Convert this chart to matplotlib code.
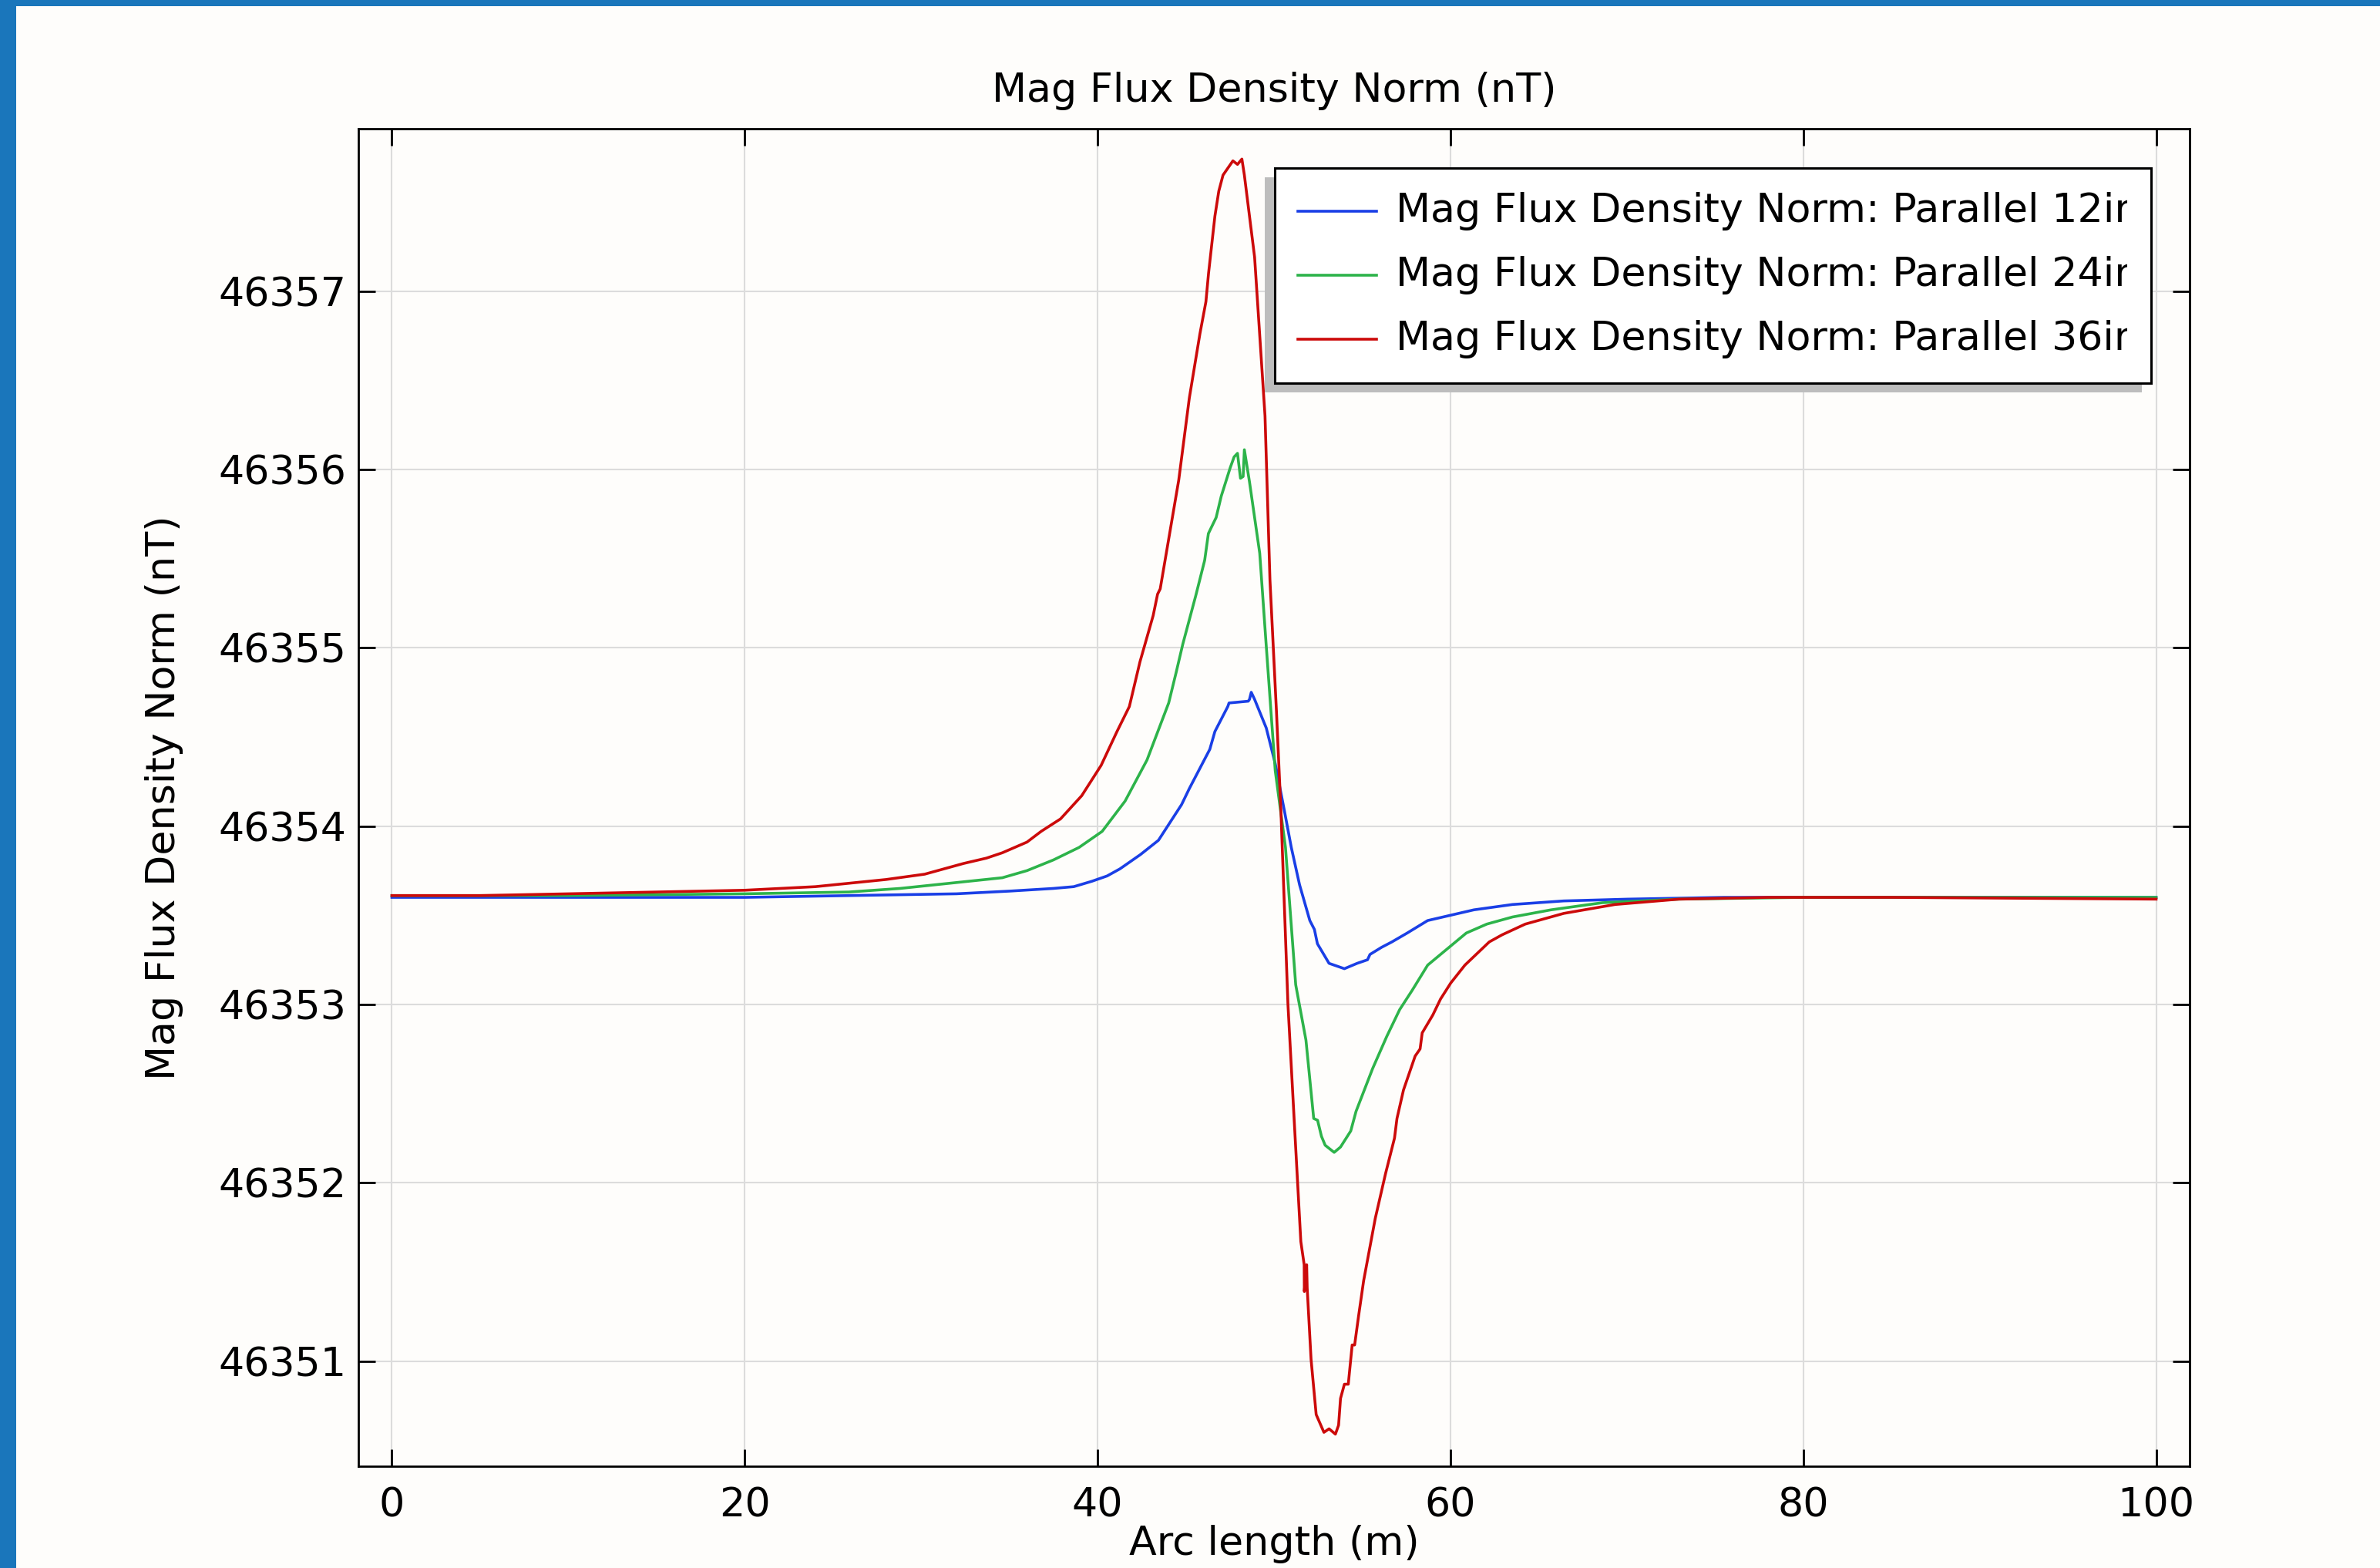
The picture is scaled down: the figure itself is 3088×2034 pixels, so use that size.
import matplotlib
matplotlib.use("Agg")
import matplotlib.pyplot as plt
from matplotlib.patches import Rectangle

plt.rcParams['font.family'] = ['DejaVu Sans']

# ---------------- data ----------------
red_x = [0, 5, 10, 15, 20, 24, 28, 30.2, 32.4, 33.7, 34.6,
         36.0, 36.8, 37.9, 39.1, 40.2, 41.1, 41.8, 42.4, 43.15, 43.4, 43.55,
         44.6, 45.2, 45.8, 46.14, 46.29, 46.65, 46.87, 47.11, 47.67, 47.93,
         48.18, 48.32, 48.61, 48.90, 49.49, 49.77, 50.14, 50.39, 50.79, 51.15,
         51.52, 51.71, 51.72, 51.85, 51.88, 52.10, 52.39, 52.83, 53.12, 53.48,
         53.66, 53.77, 53.99, 54.21, 54.43, 54.57, 54.79, 55.08, 55.74, 56.32,
         56.83, 56.97, 57.34, 58.00, 58.28, 58.40, 59.00, 59.44, 60.02, 60.82,
         62.20, 62.93, 64.24, 66.42, 69.33, 72.96, 78, 85, 100]
red_y = [46353.61, 46353.61, 46353.62, 46353.63, 46353.64, 46353.66, 46353.70, 46353.73, 46353.79, 46353.82, 46353.85,
         46353.91, 46353.97, 46354.04, 46354.17, 46354.34, 46354.53, 46354.67, 46354.92, 46355.18, 46355.30, 46355.33,
         46355.94, 46356.40, 46356.76, 46356.94, 46357.10, 46357.42, 46357.56, 46357.65, 46357.73, 46357.71,
         46357.74, 46357.65, 46357.42, 46357.19, 46356.30, 46355.38, 46354.64, 46354.09, 46353.00, 46352.34,
         46351.67, 46351.54, 46351.39, 46351.54, 46351.41, 46351.01, 46350.70, 46350.60, 46350.62, 46350.59,
         46350.64, 46350.79, 46350.87, 46350.87, 46351.09, 46351.09, 46351.25, 46351.45, 46351.80, 46352.05,
         46352.25, 46352.36, 46352.52, 46352.71, 46352.75, 46352.84, 46352.94, 46353.03, 46353.12, 46353.22,
         46353.35, 46353.39, 46353.45, 46353.51, 46353.56, 46353.59, 46353.60, 46353.60, 46353.59]

green_x = [0, 10, 20, 25.9, 28.8, 31.7, 34.6, 36.0, 37.5, 38.95, 40.26, 41.56,
           42.80, 44.03, 44.45, 44.83, 45.56, 46.07, 46.28, 46.72, 47.01, 47.52,
           47.74, 47.93, 48.10, 48.25, 48.32, 48.61, 49.19, 49.56, 50.07, 50.65,
           51.23, 51.81, 52.25, 52.47, 52.69, 52.90, 53.41, 53.77, 54.35, 54.65,
           55.59, 56.39, 57.12, 57.84, 58.71, 59.44, 60.90, 62.06, 63.52, 65.70,
           68.61, 72.96, 80, 90, 100]
green_y = [46353.61, 46353.61, 46353.62, 46353.63, 46353.65, 46353.68, 46353.71, 46353.75, 46353.81, 46353.88, 46353.97, 46354.14,
           46354.37, 46354.69, 46354.86, 46355.02, 46355.29, 46355.49, 46355.64, 46355.73, 46355.85, 46356.01,
           46356.07, 46356.09, 46355.95, 46355.96, 46356.11, 46355.93, 46355.53, 46355.01, 46354.31, 46353.88,
           46353.11, 46352.80, 46352.36, 46352.35, 46352.26, 46352.21, 46352.17, 46352.20, 46352.29, 46352.40,
           46352.64, 46352.82, 46352.97, 46353.08, 46353.22, 46353.28, 46353.40, 46353.45, 46353.49, 46353.53,
           46353.57, 46353.59, 46353.60, 46353.60, 46353.60]

blue_x = [0, 10, 20, 25.9, 32, 35, 37.49, 38.65, 39.67, 40.54, 41.27, 41.85, 42.43, 43.45,
          44.76, 45.20, 46.36, 46.65, 47.38, 47.45, 48.54, 48.61, 48.71, 48.90,
          49.56, 50.07, 50.58, 50.98, 51.45, 52.03, 52.29, 52.46, 53.12, 53.99,
          54.71, 55.30, 55.44, 56.10, 56.68, 57.55, 58.71, 60.02, 61.33, 63.52,
          66.42, 70.05, 75.5, 85, 100]
blue_y = [46353.60, 46353.60, 46353.60, 46353.61, 46353.62, 46353.635, 46353.65, 46353.66, 46353.69, 46353.72, 46353.76, 46353.80, 46353.84, 46353.92,
          46354.12, 46354.21, 46354.43, 46354.53, 46354.67, 46354.69, 46354.70, 46354.71, 46354.75, 46354.71,
          46354.55, 46354.35, 46354.09, 46353.88, 46353.67, 46353.47, 46353.42, 46353.34, 46353.23, 46353.20,
          46353.23, 46353.25, 46353.28, 46353.32, 46353.35, 46353.40, 46353.47, 46353.50, 46353.53, 46353.56,
          46353.58, 46353.59, 46353.60, 46353.60, 46353.60]

series_labels = ["Mag Flux Density Norm: Parallel 12in",
                 "Mag Flux Density Norm: Parallel 24in",
                 "Mag Flux Density Norm: Parallel 36in"]
series_colors = ["#1a3fe6", "#2db34a", "#cc0a0a"]

x_ticks = [0, 20, 40, 60, 80, 100]
y_ticks = [46351, 46352, 46353, 46354, 46355, 46356, 46357]

title = "Mag Flux Density Norm (nT)"
xlabel = "Arc length (m)"
ylabel = "Mag Flux Density Norm (nT)"

# ---------------- figure ----------------
W, H = 3088, 2034
DPI = 200
fig = plt.figure(figsize=(W / DPI, H / DPI), dpi=DPI, facecolor="#fefdfb")

# blue frame strips (left, top)
fig.patches.append(Rectangle((0, 0), 21 / W, 1, transform=fig.transFigure,
                             facecolor="#1a76bb", edgecolor="none", zorder=0))
fig.patches.append(Rectangle((0, 1 - 8 / H), 1, 8 / H, transform=fig.transFigure,
                             facecolor="#1a76bb", edgecolor="none", zorder=0))

ax_l, ax_r, ax_t, ax_b = 465, 2841, 167, 1902
ax = fig.add_axes([ax_l / W, 1 - ax_b / H, (ax_r - ax_l) / W, (ax_b - ax_t) / H])
ax.set_facecolor("#fefdfb")

FS = 18.8
lw = 1.3
for xs, ys, c, lab in zip([blue_x, green_x, red_x], [blue_y, green_y, red_y],
                          series_colors, series_labels):
    ax.plot(xs, ys, color=c, lw=lw, zorder=3)

ax.set_xlim(-1.9, 101.9)
ax.set_ylim(46350.41, 46357.91)
ax.set_xticks(x_ticks)
ax.set_yticks(y_ticks)
ax.set_xticklabels([str(v) for v in x_ticks])
ax.set_yticklabels([str(v) for v in y_ticks])
ax.grid(True, color="#dcdcdc", lw=0.75, zorder=0)
ax.set_axisbelow(True)
ax.tick_params(direction='in', top=True, right=True, length=7.8, width=1.0,
               labelsize=FS, colors='black')
ax.tick_params(axis='x', pad=9.5)
ax.tick_params(axis='y', pad=5.5)
for s in ax.spines.values():
    s.set_linewidth(1.0)
    s.set_color('black')

fig.text((ax_l + ax_r) / 2 / W, 1 - 118 / H, title, ha='center', va='center', fontsize=FS)
fig.text((ax_l + ax_r) / 2 / W, 1 - 2003 / H, xlabel, ha='center', va='center', fontsize=FS)
fig.text(213 / W, 1 - ((ax_t + ax_b) / 2) / H, ylabel, ha='center', va='center',
         rotation=90, fontsize=FS)

# ---------------- legend (manual, clipped like the original) ----------------
def axx(px):
    return (px - ax_l) / (ax_r - ax_l)

def axy(py):
    return (ax_b - py) / (ax_b - ax_t)

shadow = Rectangle((axx(1641), axy(509)), axx(2779) - axx(1641), axy(230) - axy(509),
                   transform=ax.transAxes, facecolor="#bdbdbd", edgecolor="none",
                   zorder=6, clip_on=False)
ax.add_patch(shadow)
box = Rectangle((axx(1654), axy(497)), axx(2791) - axx(1654), axy(218) - axy(497),
                transform=ax.transAxes, facecolor="white", edgecolor="black",
                lw=1.1, zorder=7, clip_on=False)
ax.add_patch(box)
clip_rect = Rectangle((axx(1654), axy(497)), axx(2760) - axx(1654), axy(218) - axy(497),
                      transform=ax.transAxes, facecolor="none", edgecolor="none")
ax.add_patch(clip_rect)
clip_rect.set_visible(False)

rows = [274, 357, 440]
for py, c, lab in zip(rows, series_colors, series_labels):
    ax.plot([axx(1684), axx(1786)], [axy(py), axy(py)], transform=ax.transAxes,
            color=c, lw=lw, zorder=8, clip_on=False)
    t = ax.text(axx(1811), axy(py), lab, transform=ax.transAxes, ha='left',
                va='center', fontsize=FS, zorder=8)
    t.set_clip_path(clip_rect)
    t.set_clip_on(True)

fig.savefig("out.png", dpi=DPI, facecolor=fig.get_facecolor())
